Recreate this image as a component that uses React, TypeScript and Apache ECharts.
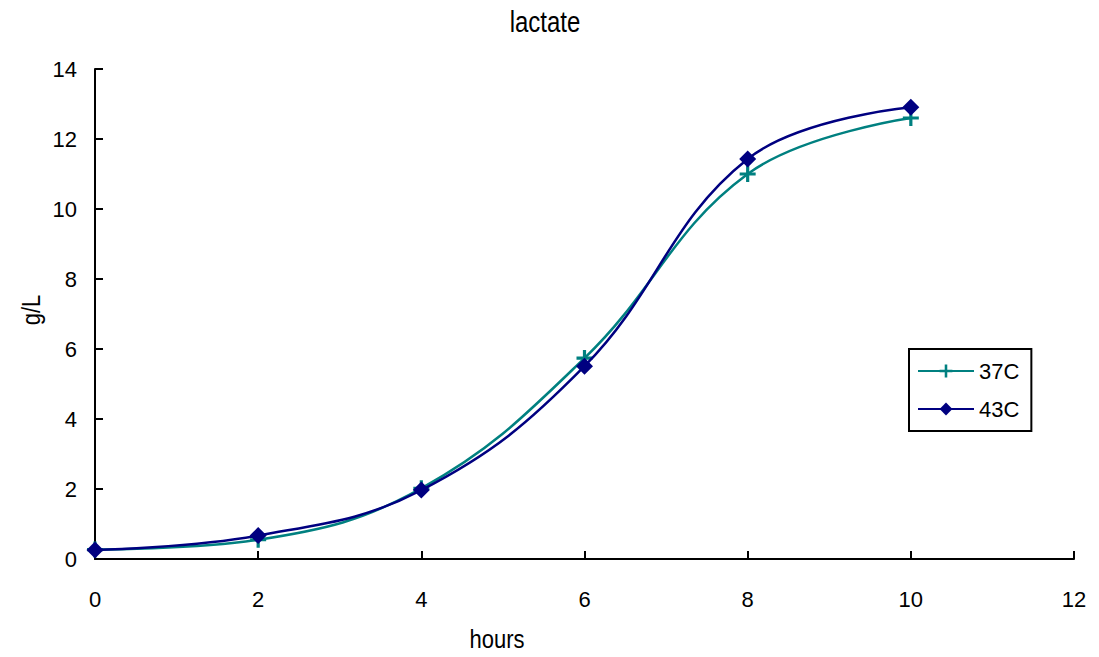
import React, { useEffect, useRef } from "react";
import * as echarts from "echarts";

// Sampling times (hours)
const hours = [0, 2, 4, 6, 8, 10];
// Lactate concentration (g/L) at each temperature
const lactate37C = [0.27, 0.55, 2.02, 5.74, 11.0, 12.6];
const lactate43C = [0.26, 0.67, 1.97, 5.51, 11.43, 12.91];

const FONT = "'Liberation Sans Narrow', 'Arial Narrow', 'Liberation Sans', Arial, sans-serif";
const PLUS = "path://M4,0h2v4h4v2h-4v4h-2v-4h-4v-2h4z";

export default function App() {
  const ref = useRef<HTMLDivElement>(null);

  useEffect(() => {
    if (!ref.current) return;
    const chart = echarts.init(ref.current, undefined, { renderer: "svg" });
    const pairs = (ys: number[]) => hours.map((h, i) => [h, ys[i]]);

    chart.setOption({
      animation: false,
      backgroundColor: "#ffffff",
      textStyle: { fontFamily: FONT },
      grid: { left: 95, right: 25, top: 69, bottom: 98, containLabel: false },
      xAxis: {
        type: "value",
        min: 0,
        max: 12,
        interval: 2,
        splitLine: { show: false },
        axisLine: { lineStyle: { color: "#000", width: 2 } },
        axisTick: { inside: true, length: 8, lineStyle: { color: "#000", width: 2 } },
        axisLabel: { fontFamily: FONT, fontSize: 22, color: "#000", margin: 29 },
      },
      yAxis: {
        type: "value",
        min: 0,
        max: 14,
        interval: 2,
        splitLine: { show: false },
        axisLine: { show: true, lineStyle: { color: "#000", width: 2 } },
        axisTick: { show: true, inside: true, length: 8, lineStyle: { color: "#000", width: 2 } },
        axisLabel: { fontFamily: FONT, fontSize: 22, color: "#000", margin: 18 },
      },
      legend: {
        orient: "vertical",
        left: 909,
        top: 349,
        width: 121,
        padding: [11, 12, 11, 8],
        itemGap: 16,
        itemWidth: 56,
        itemHeight: 16,
        borderColor: "#000",
        borderWidth: 2,
        textStyle: { fontFamily: FONT, fontSize: 22, color: "#000" },
        data: ["37C", "43C"],
      },
      graphic: [
        {
          type: "text",
          x: 545,
          y: 8,
          scaleY: 1.2,
          style: { text: "lactate", fontFamily: FONT, fontSize: 24, fill: "#000", align: "center" },
        },
        {
          type: "text",
          x: 497,
          y: 626,
          scaleY: 1.2,
          style: { text: "hours", fontFamily: FONT, fontSize: 22, fill: "#000", align: "center" },
        },
        {
          type: "text",
          x: 18,
          y: 310,
          rotation: Math.PI / 2,
          scaleY: 1.2,
          style: { text: "g/L", fontFamily: FONT, fontSize: 22, fill: "#000", align: "center" },
        },
      ],
      series: [
        {
          name: "37C",
          type: "line",
          data: pairs(lactate37C),
          smooth: 0.4,
          symbol: PLUS,
          symbolSize: 16,
          lineStyle: { color: "#008080", width: 2.5 },
          itemStyle: { color: "#008080" },
          z: 2,
        },
        {
          name: "43C",
          type: "line",
          data: pairs(lactate43C),
          smooth: 0.4,
          symbol: "diamond",
          symbolSize: 17,
          lineStyle: { color: "#000080", width: 2.5 },
          itemStyle: { color: "#000080" },
          z: 3,
        },
      ],
    });

    return () => chart.dispose();
  }, []);

  return <div ref={ref} style={{ width: 1099, height: 657, position: "absolute", left: 0, top: 0 }} />;
}
